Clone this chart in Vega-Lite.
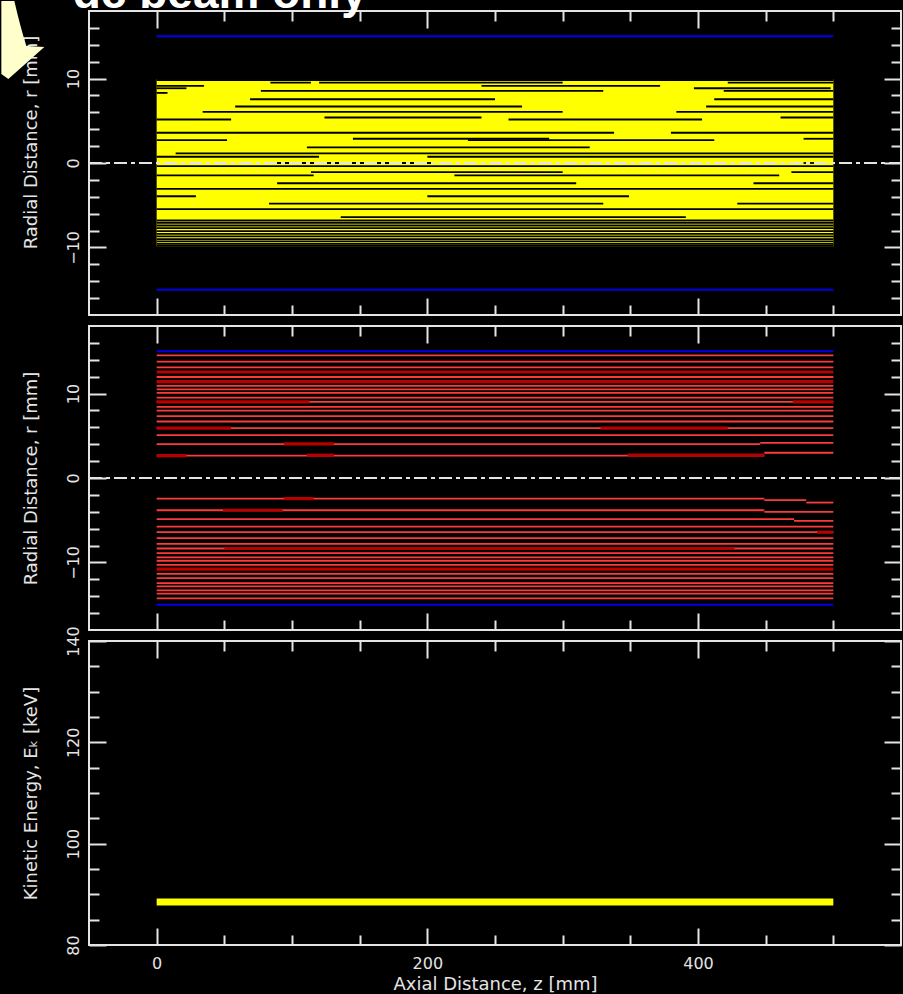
{
  "$schema": "https://vega.github.io/schema/vega-lite/v6.json",
  "background": "#000000",
  "padding": {"left": 0, "top": -30, "right": 2, "bottom": 2},
  "spacing": 11,
  "bounds": "flush",
  "config": {
    "view": {"stroke": "#e4e4e4", "strokeWidth": 2},
    "axis": {
      "domain": false,
      "grid": false,
      "tickColor": "#e4e4e4",
      "tickWidth": 2,
      "labelColor": "#e4e4e4",
      "titleColor": "#e4e4e4",
      "labelFont": "DejaVu Sans",
      "labelFontSize": 16,
      "labelFlush": false,
      "titleFont": "DejaVu Sans",
      "titleFontSize": 18,
      "titleFontWeight": "normal"
    }
  },
  "datasets": {
    "band": [{"z1": 0, "z2": 500, "r1": -9.9, "r2": 9.92}],
    "gaps": [
      {"z1": 0, "z2": 500, "r": 9.83},
      {"z1": 84, "z2": 114, "r": 9.52}, {"z1": 120, "z2": 300, "r": 9.52}, {"z1": 422, "z2": 500, "r": 9.52},
      {"z1": 0, "z2": 35, "r": 9.13}, {"z1": 240, "z2": 372, "r": 9.13},
      {"z1": 0, "z2": 22, "r": 8.85}, {"z1": 397, "z2": 498, "r": 8.85},
      {"z1": 77, "z2": 330, "r": 8.54}, {"z1": 419, "z2": 500, "r": 8.54},
      {"z1": 0, "z2": 8, "r": 8.3},
      {"z1": 69, "z2": 250, "r": 7.55}, {"z1": 412, "z2": 500, "r": 7.55},
      {"z1": 58, "z2": 270, "r": 6.69}, {"z1": 406, "z2": 500, "r": 6.69},
      {"z1": 34, "z2": 300, "r": 6.06}, {"z1": 384, "z2": 500, "r": 6.06},
      {"z1": 124, "z2": 240, "r": 5.39}, {"z1": 461, "z2": 500, "r": 5.39},
      {"z1": 0, "z2": 55, "r": 5.15}, {"z1": 260, "z2": 403, "r": 5.15},
      {"z1": 0, "z2": 338, "r": 3.58}, {"z1": 380, "z2": 500, "r": 3.58},
      {"z1": 145, "z2": 290, "r": 2.87}, {"z1": 478, "z2": 500, "r": 2.87},
      {"z1": 0, "z2": 52, "r": 2.71}, {"z1": 230, "z2": 412, "r": 2.71},
      {"z1": 111, "z2": 320, "r": 1.85},
      {"z1": 14, "z2": 500, "r": 1.14},
      {"z1": 0, "z2": 120, "r": 0.74}, {"z1": 200, "z2": 500, "r": 0.74},
      {"z1": 88, "z2": 203, "r": 0.0}, {"z1": 478, "z2": 490, "r": 0.0},
      {"z1": 0, "z2": 500, "r": -0.36},
      {"z1": 114, "z2": 300, "r": -1.07}, {"z1": 469, "z2": 500, "r": -1.07},
      {"z1": 0, "z2": 116, "r": -1.46}, {"z1": 220, "z2": 460, "r": -1.46},
      {"z1": 89, "z2": 310, "r": -2.4}, {"z1": 441, "z2": 500, "r": -2.4},
      {"z1": 0, "z2": 500, "r": -3.07},
      {"z1": 0, "z2": 29, "r": -3.94}, {"z1": 200, "z2": 349, "r": -3.94},
      {"z1": 83, "z2": 330, "r": -4.8}, {"z1": 429, "z2": 500, "r": -4.8},
      {"z1": 0, "z2": 500, "r": -5.47},
      {"z1": 136, "z2": 391, "r": -6.42},
      {"z1": 0, "z2": 500, "r": -6.81},
      {"z1": 0, "z2": 500, "r": -7.09},
      {"z1": 0, "z2": 500, "r": -7.4},
      {"z1": 0, "z2": 500, "r": -7.72},
      {"z1": 0, "z2": 500, "r": -8.07},
      {"z1": 0, "z2": 500, "r": -8.39},
      {"z1": 0, "z2": 500, "r": -8.7},
      {"z1": 0, "z2": 500, "r": -9.02},
      {"z1": 0, "z2": 500, "r": -9.29},
      {"z1": 0, "z2": 500, "r": -9.57},
      {"z1": 0, "z2": 500, "r": -9.8}
    ],
    "walls": [{"z1": 0, "z2": 500, "r": 15}, {"z1": 0, "z2": 500, "r": -15}],
    "axisline": [{"z1": -50, "z2": 550, "r": 0}],
    "red": [
      {"z1": 0, "z2": 500, "r": 14.52}, {"z1": 0, "z2": 500, "r": 13.77}, {"z1": 0, "z2": 500, "r": 13.1},
      {"z1": 0, "z2": 500, "r": 11.96}, {"z1": 0, "z2": 500, "r": 10.9}, {"z1": 0, "z2": 500, "r": 10.5},
      {"z1": 0, "z2": 500, "r": 10.07}, {"z1": 0, "z2": 500, "r": 9.52}, {"z1": 0, "z2": 500, "r": 9.01},
      {"z1": 0, "z2": 500, "r": 8.42}, {"z1": 0, "z2": 500, "r": 7.99}, {"z1": 0, "z2": 500, "r": 7.32},
      {"z1": 0, "z2": 500, "r": 6.69}, {"z1": 0, "z2": 500, "r": 5.9}, {"z1": 0, "z2": 500, "r": 5.08},
      {"z1": 0, "z2": 446, "r": 4.01}, {"z1": 446, "z2": 500, "r": 4.17},
      {"z1": 0, "z2": 449, "r": 2.64}, {"z1": 449, "z2": 500, "r": 2.99},
      {"z1": 0, "z2": 449, "r": -2.44}, {"z1": 449, "z2": 480, "r": -2.62}, {"z1": 480, "z2": 500, "r": -2.91},
      {"z1": 0, "z2": 449, "r": -3.82}, {"z1": 449, "z2": 500, "r": -4.0},
      {"z1": 0, "z2": 471, "r": -4.88}, {"z1": 471, "z2": 500, "r": -5.08},
      {"z1": 0, "z2": 500, "r": -5.75}, {"z1": 0, "z2": 500, "r": -6.42}, {"z1": 0, "z2": 500, "r": -7.13},
      {"z1": 0, "z2": 500, "r": -7.8}, {"z1": 0, "z2": 500, "r": -8.35}, {"z1": 0, "z2": 500, "r": -8.9},
      {"z1": 0, "z2": 500, "r": -9.41}, {"z1": 0, "z2": 500, "r": -9.8}, {"z1": 0, "z2": 500, "r": -10.28},
      {"z1": 0, "z2": 500, "r": -11.35}, {"z1": 0, "z2": 500, "r": -11.86}, {"z1": 0, "z2": 500, "r": -12.45},
      {"z1": 0, "z2": 500, "r": -12.83}, {"z1": 0, "z2": 500, "r": -13.31}, {"z1": 0, "z2": 500, "r": -13.7},
      {"z1": 0, "z2": 500, "r": -14.25}
    ],
    "redDense": [
      {"z1": 0, "z2": 500, "r": 12.55}, {"z1": 0, "z2": 500, "r": 11.42},
      {"z1": 0, "z2": 113, "r": 9.01}, {"z1": 470, "z2": 500, "r": 9.01},
      {"z1": 0, "z2": 55, "r": 5.9}, {"z1": 328, "z2": 422, "r": 5.9},
      {"z1": 94, "z2": 131, "r": 4.03},
      {"z1": 0, "z2": 22, "r": 2.64}, {"z1": 111, "z2": 131, "r": 2.7}, {"z1": 348, "z2": 449, "r": 2.7},
      {"z1": 94, "z2": 116, "r": -2.44}, {"z1": 49, "z2": 93, "r": -3.82},
      {"z1": 488, "z2": 500, "r": -6.42}, {"z1": 50, "z2": 427, "r": -8.35},
      {"z1": 0, "z2": 500, "r": -10.79}
    ],
    "energy": [{"z1": 0, "z2": 500, "E": 88.5}]
  },
  "vconcat": [
    {
      "width": 812,
      "height": 304,
      "resolve": {"axis": {"x": "independent", "y": "independent"}},
      "layer": [
        {
          "data": {"name": "band"},
          "mark": {"type": "rect", "color": "#ffff00"},
          "encoding": {
            "x": {"field": "z1", "type": "quantitative", "scale": {"domain": [-50, 550], "nice": false, "zero": false},
                  "axis": {"orient": "bottom", "values": [0, 200, 400], "tickSize": -17, "labels": false, "title": null}},
            "x2": {"field": "z2"},
            "y": {"field": "r1", "type": "quantitative", "scale": {"domain": [-18, 18], "nice": false, "zero": false},
                  "axis": {"orient": "left", "values": [-10, 0, 10], "tickSize": -17, "labelAngle": -90, "labelAlign": "center", "labelBaseline": "bottom", "labelPadding": 25, "title": "Radial Distance, r [mm]", "titlePadding": 25, "titleY": 131}},
            "y2": {"field": "r2"}
          }
        },
        {
          "data": {"name": "gaps"},
          "mark": {"type": "rule", "color": "#000000", "strokeWidth": 1.8},
          "encoding": {
            "x": {"field": "z1", "type": "quantitative", "scale": {"domain": [-50, 550], "nice": false, "zero": false},
                  "axis": {"orient": "bottom", "values": [50, 100, 150, 250, 300, 350, 450, 500], "tickSize": -10, "labels": false, "title": null}},
            "x2": {"field": "z2"},
            "y": {"field": "r", "type": "quantitative", "scale": {"domain": [-18, 18], "nice": false, "zero": false},
                  "axis": {"orient": "left", "values": [-16, -14, -12, -8, -6, -4, -2, 2, 4, 6, 8, 12, 14, 16], "tickSize": -10, "labels": false, "title": null}}
          }
        },
        {
          "data": {"name": "walls"},
          "mark": {"type": "rule", "color": "#0000ee", "strokeWidth": 2},
          "encoding": {
            "x": {"field": "z1", "type": "quantitative", "scale": {"domain": [-50, 550], "nice": false, "zero": false},
                  "axis": {"orient": "top", "values": [0, 200, 400], "tickSize": -17, "labels": false, "title": null}},
            "x2": {"field": "z2"},
            "y": {"field": "r", "type": "quantitative", "scale": {"domain": [-18, 18], "nice": false, "zero": false},
                  "axis": {"orient": "right", "values": [-10, 0, 10], "tickSize": -17, "labels": false, "title": null}}
          }
        },
        {
          "data": {"name": "axisline"},
          "mark": {"type": "rule", "color": "#e4e4e4", "strokeWidth": 2, "strokeDash": [13, 4, 4, 4]},
          "encoding": {
            "x": {"field": "z1", "type": "quantitative", "scale": {"domain": [-50, 550], "nice": false, "zero": false},
                  "axis": {"orient": "top", "values": [50, 100, 150, 250, 300, 350, 450, 500], "tickSize": -10, "labels": false, "title": null}},
            "x2": {"field": "z2"},
            "y": {"field": "r", "type": "quantitative", "scale": {"domain": [-18, 18], "nice": false, "zero": false},
                  "axis": {"orient": "right", "values": [-16, -14, -12, -8, -6, -4, -2, 2, 4, 6, 8, 12, 14, 16], "tickSize": -10, "labels": false, "title": null}}
          }
        },
        {
          "data": {"values": [{}]},
          "mark": {"type": "point", "shape": "M-43,-46L-30,-46Q-24,-20,-18,-1L0,0L-36,32L-43,27Z", "size": 4, "filled": true, "color": "#ffffcc", "opacity": 1, "strokeWidth": 0},
          "encoding": {
            "x": {"datum": -83, "type": "quantitative", "scale": {"domain": [-50, 550], "nice": false, "zero": false}, "axis": null},
            "y": {"datum": 13.73, "type": "quantitative", "scale": {"domain": [-18, 18], "nice": false, "zero": false}, "axis": null}
          }
        },
        {
          "data": {"values": [{}]},
          "mark": {"type": "text", "text": "dc beam only", "align": "left", "baseline": "alphabetic", "font": "Liberation Sans", "fontSize": 46, "fontWeight": "bold", "color": "#ffffff"},
          "encoding": {
            "x": {"datum": -62, "type": "quantitative", "scale": {"domain": [-50, 550], "nice": false, "zero": false}, "axis": null},
            "y": {"datum": 18.3, "type": "quantitative", "scale": {"domain": [-18, 18], "nice": false, "zero": false}, "axis": null}
          }
        }
      ]
    },
    {
      "width": 812,
      "height": 304,
      "resolve": {"axis": {"x": "independent", "y": "independent"}},
      "layer": [
        {
          "data": {"name": "red"},
          "mark": {"type": "rule", "color": "#ff3a3a", "strokeWidth": 1.8},
          "encoding": {
            "x": {"field": "z1", "type": "quantitative", "scale": {"domain": [-50, 550], "nice": false, "zero": false},
                  "axis": {"orient": "bottom", "values": [0, 200, 400], "tickSize": -17, "labels": false, "title": null}},
            "x2": {"field": "z2"},
            "y": {"field": "r", "type": "quantitative", "scale": {"domain": [-18, 18], "nice": false, "zero": false},
                  "axis": {"orient": "left", "values": [-10, 0, 10], "tickSize": -17, "labelAngle": -90, "labelAlign": "center", "labelBaseline": "bottom", "labelPadding": 25, "title": "Radial Distance, r [mm]", "titlePadding": 25}}
          }
        },
        {
          "data": {"name": "redDense"},
          "mark": {"type": "rule", "color": "#b80000", "strokeWidth": 3.2},
          "encoding": {
            "x": {"field": "z1", "type": "quantitative", "scale": {"domain": [-50, 550], "nice": false, "zero": false},
                  "axis": {"orient": "bottom", "values": [50, 100, 150, 250, 300, 350, 450, 500], "tickSize": -10, "labels": false, "title": null}},
            "x2": {"field": "z2"},
            "y": {"field": "r", "type": "quantitative", "scale": {"domain": [-18, 18], "nice": false, "zero": false},
                  "axis": {"orient": "left", "values": [-16, -14, -12, -8, -6, -4, -2, 2, 4, 6, 8, 12, 14, 16], "tickSize": -10, "labels": false, "title": null}}
          }
        },
        {
          "data": {"name": "walls"},
          "mark": {"type": "rule", "color": "#0000ee", "strokeWidth": 2},
          "encoding": {
            "x": {"field": "z1", "type": "quantitative", "scale": {"domain": [-50, 550], "nice": false, "zero": false},
                  "axis": {"orient": "top", "values": [0, 200, 400], "tickSize": -17, "labels": false, "title": null}},
            "x2": {"field": "z2"},
            "y": {"field": "r", "type": "quantitative", "scale": {"domain": [-18, 18], "nice": false, "zero": false},
                  "axis": {"orient": "right", "values": [-10, 0, 10], "tickSize": -17, "labels": false, "title": null}}
          }
        },
        {
          "data": {"name": "axisline"},
          "mark": {"type": "rule", "color": "#e4e4e4", "strokeWidth": 2, "strokeDash": [13, 4, 4, 4]},
          "encoding": {
            "x": {"field": "z1", "type": "quantitative", "scale": {"domain": [-50, 550], "nice": false, "zero": false},
                  "axis": {"orient": "top", "values": [50, 100, 150, 250, 300, 350, 450, 500], "tickSize": -10, "labels": false, "title": null}},
            "x2": {"field": "z2"},
            "y": {"field": "r", "type": "quantitative", "scale": {"domain": [-18, 18], "nice": false, "zero": false},
                  "axis": {"orient": "right", "values": [-16, -14, -12, -8, -6, -4, -2, 2, 4, 6, 8, 12, 14, 16], "tickSize": -10, "labels": false, "title": null}}
          }
        }
      ]
    },
    {
      "width": 812,
      "height": 304,
      "resolve": {"axis": {"x": "independent", "y": "independent"}},
      "layer": [
        {
          "data": {"name": "energy"},
          "mark": {"type": "rule", "color": "#ffff00", "strokeWidth": 7},
          "encoding": {
            "x": {"field": "z1", "type": "quantitative", "scale": {"domain": [-50, 550], "nice": false, "zero": false},
                  "axis": {"orient": "bottom", "values": [0, 200, 400], "tickSize": -17, "labelPadding": 27, "title": "Axial Distance, z [mm]", "titlePadding": 4}},
            "x2": {"field": "z2"},
            "y": {"field": "E", "type": "quantitative", "scale": {"domain": [80, 140], "nice": false, "zero": false},
                  "axis": {"orient": "left", "values": [80, 100, 120, 140], "tickSize": -17, "labelAngle": -90, "labelAlign": "center", "labelBaseline": "bottom", "labelPadding": 25, "title": "Kinetic Energy, Eₖ [keV]", "titlePadding": 25}}
          }
        },
        {
          "data": {"values": []},
          "mark": {"type": "rule"},
          "encoding": {
            "x": {"field": "z1", "type": "quantitative", "scale": {"domain": [-50, 550], "nice": false, "zero": false},
                  "axis": {"orient": "bottom", "values": [50, 100, 150, 250, 300, 350, 450, 500], "tickSize": -10, "labels": false, "title": null}},
            "y": {"field": "E", "type": "quantitative", "scale": {"domain": [80, 140], "nice": false, "zero": false},
                  "axis": {"orient": "left", "values": [85, 90, 95, 105, 110, 115, 125, 130, 135], "tickSize": -10, "labels": false, "title": null}}
          }
        },
        {
          "data": {"values": []},
          "mark": {"type": "rule"},
          "encoding": {
            "x": {"field": "z1", "type": "quantitative", "scale": {"domain": [-50, 550], "nice": false, "zero": false},
                  "axis": {"orient": "top", "values": [0, 200, 400], "tickSize": -17, "labels": false, "title": null}},
            "y": {"field": "E", "type": "quantitative", "scale": {"domain": [80, 140], "nice": false, "zero": false},
                  "axis": {"orient": "right", "values": [80, 100, 120, 140], "tickSize": -17, "labels": false, "title": null}}
          }
        },
        {
          "data": {"values": []},
          "mark": {"type": "rule"},
          "encoding": {
            "x": {"field": "z1", "type": "quantitative", "scale": {"domain": [-50, 550], "nice": false, "zero": false},
                  "axis": {"orient": "top", "values": [50, 100, 150, 250, 300, 350, 450, 500], "tickSize": -10, "labels": false, "title": null}},
            "y": {"field": "E", "type": "quantitative", "scale": {"domain": [80, 140], "nice": false, "zero": false},
                  "axis": {"orient": "right", "values": [85, 90, 95, 105, 110, 115, 125, 130, 135], "tickSize": -10, "labels": false, "title": null}}
          }
        }
      ]
    }
  ]
}
